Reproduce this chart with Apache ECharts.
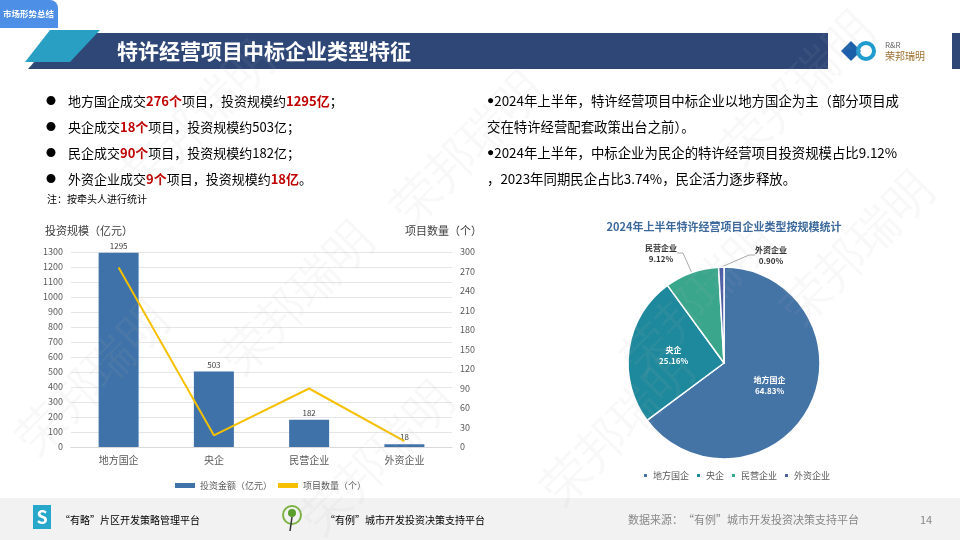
<!DOCTYPE html>
<html><head><meta charset="utf-8">
<script src="https://cdn.jsdelivr.net/npm/echarts@6/dist/echarts.min.js"></script>
<style>html,body{margin:0;padding:0;background:#fff}#c{width:960px;height:540px}</style>
</head><body><div id="c"></div>
<script>
const categories = ['地方国企','央企','民营企业','外资企业'];
const investValues = [1295, 503, 182, 18];
const projectCounts = [276, 18, 90, 9];
const pieShares = [64.83, 25.16, 9.12, 0.90];
const leftTicks = {min:0,max:1300,interval:100};
const rightTicks = {min:0,max:300,interval:30};

const F = '"Noto Sans CJK SC","Microsoft YaHei",sans-serif';
const chart = echarts.init(document.getElementById('c'));

const wm = [];
[[95,380],[300,300],[470,150],[620,430],[800,90],[860,250],[200,120],[380,460],[700,300]].forEach(p=>{
  wm.push({type:'text',x:p[0],y:p[1],rotation:Math.PI/4,z:100,silent:true,
    style:{text:'荣邦瑞明',font:'48px serif',fill:'rgba(180,180,180,0.09)',align:'center',verticalAlign:'middle'}});
});

function bulletRow(y, parts){
  return {type:'text',x:68,y:y,style:{text:parts,font:'13px '+F,fill:'#000',verticalAlign:'middle',
    rich:{r:{fill:'#c00000',fontWeight:'bold',fontSize:13,fontFamily:F},n:{fill:'#000',fontSize:13,fontFamily:F}}}};
}
function rightRow(y, txt){
  return {type:'text',x:487,y:y,style:{text:txt,font:'13.4px '+F,fill:'#000',verticalAlign:'middle',
    rich:{b:{fontSize:12,fill:'#000'},n:{fontSize:13.4,fontFamily:F,fill:'#000'}}}};
}

const graphics = [
  {type:'rect',shape:{x:-8,y:0,width:66,height:28,r:[0,8,0,0]},style:{fill:'#4d8fe6'}},
  {type:'text',x:3,y:14,style:{text:'市场形势总结',font:'bold 8.5px '+F,fill:'#fff',verticalAlign:'middle'}},
  {type:'polygon',shape:{points:[[60,33],[828,33],[828,69],[28,69]]},style:{fill:'#2f4777'}},
  {type:'polygon',shape:{points:[[50,30],[100,30],[70,62],[25,62]]},style:{fill:'#2a9fc4'}},
  {type:'rect',shape:{x:952,y:33,width:8,height:36},style:{fill:'#2f4777'}},
  {type:'text',x:117,y:51,style:{text:'特许经营项目中标企业类型特征',font:'bold 21px '+F,fill:'#fff',verticalAlign:'middle'}},
  {type:'polygon',shape:{points:[[841,51],[851,41],[861,51],[851,61]]},style:{fill:'#1b5fa8'}},
  {type:'circle',shape:{cx:866,cy:51,r:8},style:{fill:'none',stroke:'#1f9bd0',lineWidth:4}},
  {type:'text',x:885,y:45,style:{text:'R&R',font:'8px '+F,fill:'#666',verticalAlign:'middle'}},
  {type:'text',x:885,y:56,style:{text:'荣邦瑞明',font:'10px '+F,fill:'#a07030',verticalAlign:'middle'}},
  ...[101,127,153,179].map(y=>({type:'text',x:46,y:y,style:{text:'●',font:'10px '+F,fill:'#000',verticalAlign:'middle'}})),
  bulletRow(101,'{n|地方国企成交}{r|276个}{n|项目，投资规模约}{r|1295亿}{n|；}'),
  bulletRow(127,'{n|央企成交}{r|18个}{n|项目，投资规模约503亿；}'),
  bulletRow(153,'{n|民企成交}{r|90个}{n|项目，投资规模约182亿；}'),
  bulletRow(179,'{n|外资企业成交}{r|9个}{n|项目，投资规模约}{r|18亿}{n|。}'),
  {type:'text',x:47,y:199,style:{text:'注：按牵头人进行统计',font:'10px '+F,fill:'#000',verticalAlign:'middle'}},
  rightRow(101,'{b|●}{n|2024年上半年，特许经营项目中标企业以地方国企为主（部分项目成}'),
  rightRow(127,'{n|交在特许经营配套政策出台之前）。}'),
  rightRow(153,'{b|●}{n|2024年上半年，中标企业为民企的特许经营项目投资规模占比9.12%}'),
  rightRow(179,'{n|，2023年同期民企占比3.74%，民企活力逐步释放。}'),
  {type:'text',x:724,y:227,style:{text:'2024年上半年特许经营项目企业类型按规模统计',font:'bold 11px '+F,fill:'#3d6a9c',align:'center',verticalAlign:'middle'}},
  {type:'rect',shape:{x:0,y:498,width:960,height:42},style:{fill:'#f2f2f2'}},
  {type:'rect',shape:{x:33,y:505,width:18,height:24},style:{fill:'#27a7c9'}},
  {type:'text',x:42,y:517,style:{text:'S',font:'bold 18px '+F,fill:'#fff',align:'center',verticalAlign:'middle'}},
  {type:'text',x:60,y:520,style:{text:'“有略”片区开发策略管理平台',font:'10px '+F,fill:'#000',verticalAlign:'middle'}},
  {type:'circle',shape:{cx:292,cy:515,r:9},style:{fill:'none',stroke:'#7cb342',lineWidth:2}},
  {type:'circle',shape:{cx:292,cy:513,r:4},style:{fill:'#5a9e2e'}},
  {type:'line',shape:{x1:292,y1:517,x2:290,y2:531},style:{stroke:'#333',lineWidth:1.5}},
  {type:'text',x:325,y:520,style:{text:'“有例”城市开发投资决策支持平台',font:'10px '+F,fill:'#000',verticalAlign:'middle'}},
  {type:'text',x:628,y:520,style:{text:'数据来源：“有例”城市开发投资决策支持平台',font:'11px '+F,fill:'#888',verticalAlign:'middle'}},
  {type:'text',x:920,y:520,style:{text:'14',font:'11px '+F,fill:'#888',verticalAlign:'middle'}},
  ...wm
];

const axisLbl = {color:'#595959',fontSize:9,fontFamily:F,formatter:v=>String(v)};
const labelPos = [null,null,[661,253],[771,255]];
chart.setOption({
  animation:false,
  textStyle:{fontFamily:F},
  graphic:graphics,
  legend:[
    {data:['投资金额（亿元）','项目数量（个）'],left:170,top:476,itemWidth:20,itemHeight:5,itemGap:6,
     textStyle:{fontSize:9,color:'#595959'},icon:'rect'},
    {data:categories,left:637,top:466,itemWidth:5,itemHeight:5,itemGap:6,icon:'rect',
     textStyle:{fontSize:9,color:'#595959'}}
  ],
  grid:{left:71,right:508,top:252,bottom:93},
  xAxis:{type:'category',data:categories,axisTick:{show:false},
    axisLine:{lineStyle:{color:'#d9d9d9'}},axisLabel:{color:'#595959',fontSize:10,margin:8}},
  yAxis:[
    {type:'value',...leftTicks,name:'投资规模（亿元）',nameLocation:'end',nameGap:16,
     nameTextStyle:{color:'#404040',fontSize:11,align:'left',padding:[0,0,0,-26]},
     axisLabel:axisLbl,splitLine:{lineStyle:{color:'#e6e6e6'}},axisLine:{show:false},axisTick:{show:false}},
    {type:'value',...rightTicks,name:'项目数量（个）',nameLocation:'end',nameGap:16,
     nameTextStyle:{color:'#404040',fontSize:11,align:'right',padding:[0,-30,0,0]},
     axisLabel:axisLbl,splitLine:{show:false},axisLine:{show:false},axisTick:{show:false}}
  ],
  series:[
    {type:'bar',name:'投资金额（亿元）',data:investValues,barWidth:40,itemStyle:{color:'#3f72a8'},
     label:{show:true,position:'top',fontSize:8,color:'#404040',distance:3}},
    {type:'line',name:'项目数量（个）',yAxisIndex:1,data:projectCounts,symbol:'none',
     lineStyle:{color:'#f5c000',width:2},itemStyle:{color:'#f5c000'}},
    {type:'pie',name:'pie',center:[724,363],radius:[0,96],startAngle:90,clockwise:true,
     color:['#4473a6','#1e899c','#3aa68c','#4d5ea6'],
     itemStyle:{borderColor:'#fff',borderWidth:1.5},
     label:{show:true,fontSize:8,fontWeight:'bold',lineHeight:11,align:'center',
       formatter:p=>p.name+'\n'+p.value.toFixed(2)+'%'},
     labelLine:{show:true,length:12,length2:6,lineStyle:{color:'#aaa'}},
     labelLayout:p=>labelPos[p.dataIndex]?{x:labelPos[p.dataIndex][0],y:labelPos[p.dataIndex][1],align:'center',verticalAlign:'middle'}:{},
     data:[
       {name:categories[0],value:pieShares[0],label:{position:'inside',color:'#fff'}},
       {name:categories[1],value:pieShares[1],label:{position:'inside',color:'#fff'}},
       {name:categories[2],value:pieShares[2],label:{position:'outside',color:'#333'}},
       {name:categories[3],value:pieShares[3],label:{position:'outside',color:'#333'}}
     ]}
  ]
});
</script></body></html>
